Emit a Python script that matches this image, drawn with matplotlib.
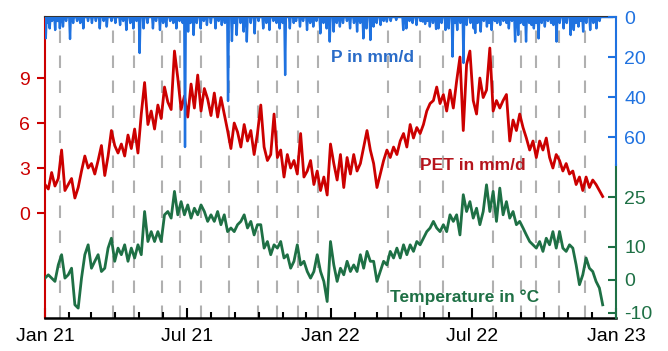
import numpy as np
import pandas as pd
import matplotlib
matplotlib.use('Agg')
import matplotlib.pyplot as plt
import matplotlib.dates as mdates

plt.rcParams.update({
    'font.family': ['Liberation Sans', 'DejaVu Sans'],
    'axes.unicode_minus': False,
})

# PET in mm/d, read every ~4.3 days from 2021-01-01 to 2022-12-15
pet = [
    1.9, 1.6, 2.7, 1.8, 2.3, 4.2, 1.5, 1.9, 2.3, 1.0, 1.7, 2.8, 3.8, 3.0, 3.3,
    2.6, 3.5, 4.5, 2.5, 3.8, 5.5, 4.5, 4.0, 4.6, 3.8, 5.2, 4.3, 5.6, 4.0, 6.6,
    8.7, 5.9, 6.8, 5.6, 7.2, 6.3, 8.4, 7.4, 6.9, 10.8, 9.0, 6.9, 7.8, 6.4, 8.6,
    7.0, 9.2, 6.8, 8.3, 7.6, 6.5, 8.0, 6.4, 7.7, 6.6, 5.5, 4.3, 6.0, 5.4,
    4.4, 5.9, 4.8, 5.5, 3.9, 5.3, 7.2, 4.4, 3.5, 3.9, 6.6, 3.7, 4.2, 2.4, 3.9,
    3.0, 3.5, 2.6, 5.3, 2.4, 2.8, 3.5, 1.9, 2.8, 1.5, 2.4, 1.2, 4.6, 3.3, 2.2,
    3.9, 1.7, 3.7, 2.6, 3.9, 2.8, 3.3, 4.4, 5.5, 4.2, 3.3, 1.7, 2.6, 3.5, 4.2,
    3.7, 4.4, 3.9, 4.8, 5.3, 4.4, 5.9, 5.0, 5.7, 5.3, 5.9, 6.8, 7.3,
    7.5, 8.4, 7.3, 7.9, 6.8, 8.2, 7.0, 8.8, 10.4, 5.5, 9.9, 10.8, 7.5, 6.6, 9.0,
    7.7, 8.2, 11.0, 6.8, 7.5, 7.0, 7.5, 7.9, 4.8, 6.2, 5.5, 6.6, 5.7, 5.0, 4.2,
    4.8, 3.7, 4.8, 4.2, 5.0, 3.7, 3.0, 3.9, 3.5, 2.8, 3.3, 2.6, 2.8, 1.9, 2.4,
    1.5, 2.4, 1.7, 2.2, 1.9, 1.5, 1.1,
]

# Temperature in deg C, same dates as PET
temp = [
    0.5, 1.5, 0.5, -0.5, 4.5, 7.6, 0.5, 1.5, 3.5, -7.6, -8.6, 0.5, 7.6, 10.6, 3.5,
    5.6, 7.6, 2.5, 3.5, 9.6, 12.6, 5.6, 9.6, 7.6, 10.6, 5.6, 9.6, 6.6, 10.6, 7.6,
    20.7, 11.6, 14.6, 11.6, 14.6, 11.6, 19.7, 20.7, 18.7, 26.8, 19.7, 23.7, 19.7, 22.7, 18.7,
    21.7, 19.7, 22.7, 20.7, 17.7, 19.7, 17.7, 20.7, 16.7, 19.7, 14.6, 15.7, 14.6, 16.7,
    17.7, 19.7, 15.7, 17.7, 13.6, 16.7, 16.7, 9.6, 11.6, 7.6, 10.6, 9.6, 11.6, 6.6, 7.6,
    3.5, 5.6, 10.6, 4.5, 5.6, 2.5, 0.5, 2.5, 7.6, 2.5, -0.5, -6.6, 11.6, 4.5, -0.5,
    3.5, 1.5, 5.6, 2.5, 4.5, 2.5, 7.6, 3.5, 8.6, 5.6, 5.6, -0.5, 2.5, 5.6, 4.5,
    8.6, 6.6, 9.6, 6.6, 10.6, 7.6, 10.6, 8.6, 11.6, 10.6, 12.6, 14.6, 15.7,
    17.7, 15.7, 14.6, 16.7, 14.6, 19.7, 17.7, 19.7, 13.6, 25.8, 20.7, 23.7, 18.7, 21.7, 16.7,
    20.7, 28.8, 20.7, 26.8, 17.7, 27.8, 19.7, 23.7, 18.7, 20.7, 16.7, 17.7, 15.7, 13.6, 11.6,
    10.6, 9.6, 11.6, 8.6, 12.6, 10.6, 14.6, 9.6, 14.6, 9.6, 8.6, 10.6, 9.6, 4.5, -1.5,
    1.5, 6.6, 3.5, 2.5, -0.5, -2.5, -7.6,
]

# Precipitation events: day offset from 2021-01-01 and amount in mm/d
p_day = [
    1, 4, 6, 9, 13, 16, 19, 23, 27, 32, 36, 41, 45, 49, 55, 60, 65, 70, 75, 79,
    85, 90, 96, 100, 104, 109, 113, 117, 121, 126, 131, 138, 142, 147, 151, 155,
    160, 164, 168, 172, 176, 179, 183, 186, 190, 194, 199, 203, 207, 212, 218,
    222, 226, 230, 234, 239, 242, 245, 250, 254, 258, 263, 268, 273, 279, 283,
    287, 292, 296, 300, 304, 307, 313, 318, 321, 326, 330, 335, 339, 343, 347,
    352, 356, 360, 364, 369, 373, 377, 381, 386, 390, 395, 399, 403, 407, 411,
    416, 420, 424, 429, 433, 437, 442, 449, 458, 462, 466, 470, 475, 480, 483,
    486, 489, 492, 496, 500, 503, 507, 512, 516, 521, 524, 527, 531, 535, 539,
    544, 548, 550, 553, 557, 561, 565, 568, 571, 575, 578, 582, 586, 590, 593,
    597, 601, 605, 608, 612, 615, 619, 622, 625, 628, 631, 635, 639, 643, 647,
    650, 654, 658, 663, 667, 672, 676, 679, 682, 685, 688, 692, 697, 701, 705, 709,
]
p_mm = [
    10.6, 3, 5.7, 2, 6.5, 2, 5.7, 4.8, 2, 11, 3, 2, 3, 5.7, 2, 3, 2, 5.7, 2, 4.8,
    2, 3, 4, 2, 6.5, 3, 5.7, 2, 18, 5.7, 3, 5.7, 2, 6.5, 3, 4.8,
    2, 3, 5.7, 2, 3, 65, 7.3, 3, 9, 3, 5.7, 2, 4, 3, 5.7,
    2, 4, 3, 42, 12, 3, 9, 3, 7.3, 12.3, 3, 8.2, 2, 5.7, 3,
    6.5, 2, 3, 5.7, 3, 29, 5.7, 3, 2, 4.8, 2, 6.5, 3, 4.8, 2,
    8.2, 3, 5.7, 12.3, 7.3, 3, 4.8, 3, 2, 5.7, 3, 7.3, 3, 10.7, 5.7,
    11.5, 4.8, 3, 4, 2, 2.3, 2, 1.5, 6.5, 5.7, 2, 3, 4, 2, 2.3,
    3.5, 2, 4.8, 3, 6, 5.7, 3, 6.5, 5.7, 19.8, 3, 6.5, 3, 23, 4,
    3, 5.7, 8, 3, 7.3, 2, 4.8, 3, 6.5, 2, 3, 4, 2, 3, 5.7,
    2, 12.3, 9, 3, 4, 12.3, 3, 4, 5.7, 3, 10.7, 3, 4.8, 2, 3,
    4, 12.3, 3, 5.7, 3, 9, 6.5, 3, 4.8, 2, 7.3, 3, 6.5, 3, 5.7, 2,
]

# marked dates (dashed lines)
events = [
    '2021-01-20', '2021-03-29', '2021-04-25', '2021-05-31', '2021-06-22',
    '2021-07-20', '2021-08-24', '2021-09-30', '2021-10-24', '2021-11-21',
    '2021-12-16', '2022-03-15', '2022-04-26', '2022-05-25', '2022-07-28',
    '2022-09-01', '2022-09-21', '2022-10-20', '2022-11-23',
]

red = '#cc0000'
blue = '#1f72e0'
green = '#1e7045'

t_dates = pd.date_range('2021-01-01', '2022-12-15', periods=len(pet))
p_series = pd.Series(0.0, index=pd.date_range('2021-01-01', '2022-12-27', freq='D'))
p_series.iloc[p_day] = p_mm

fig = plt.figure(figsize=(6.68, 3.51), dpi=100)
ax = fig.add_axes([45 / 668, 33 / 351, 571 / 668, 301 / 351])
ax_t = ax.twinx()
ax_p = ax.twinx()

for d in events:
    ax.axvline(pd.Timestamp(d), color='#b0b0b0', lw=1.5, linestyle=(0, (6, 6)), zorder=0)

ax.plot(t_dates, pet, color=red, lw=2.0)
ax_t.plot(t_dates, temp, color=green, lw=2.0)
ax_p.plot(p_series.index, p_series.values, color=blue, lw=1.7)

ax.set_xlim(pd.Timestamp('2021-01-01'), pd.Timestamp('2023-01-01'))
ax.set_ylim(-7.0, 13.07)
ax_p.set_ylim(150.5, 0)
ax_t.set_ylim(-11.6, 79.7)

ax.xaxis.set_major_locator(mdates.MonthLocator(bymonth=[1, 7]))
ax.xaxis.set_minor_locator(mdates.MonthLocator())
ax.xaxis.set_major_formatter(mdates.DateFormatter('%b %y'))
ax.tick_params(axis='x', which='major', direction='in', length=7, width=1.5, labelsize=14, pad=7)
ax.tick_params(axis='x', which='minor', direction='in', length=4, width=1.5)

ax.set_yticks([0, 3, 6, 9])
ax.tick_params(axis='y', direction='out', length=6, width=1.5, colors=red, labelsize=14, pad=5)
ax_p.set_yticks([0, 20, 40, 60])
ax_p.tick_params(axis='y', direction='in', length=6, width=1.5, colors=blue, labelsize=14, pad=6)
ax_t.set_yticks([-10, 0, 10, 25])
ax_t.tick_params(axis='y', direction='in', length=6, width=1.5, colors=green, labelsize=14, pad=6)

ax.spines['right'].set_visible(False)
ax.spines['left'].set_color(red)
ax.spines['left'].set_linewidth(1.5)
ax.spines['top'].set_linewidth(1.5)
ax.spines['top'].set_color('#333333')
ax.spines['bottom'].set_linewidth(1.8)
for a in (ax_t, ax_p):
    for s in ('left', 'top', 'bottom'):
        a.spines[s].set_visible(False)
ax_p.spines['right'].set_color(blue)
ax_p.spines['right'].set_linewidth(1.5)
ax_p.spines['right'].set_bounds(0, 74)
ax_t.spines['right'].set_color(green)
ax_t.spines['right'].set_linewidth(1.5)
ax_t.spines['right'].set_bounds(-11.6, 34.8)

ax_p.text(0.573, 0.867, 'P in mm/d', transform=ax.transAxes, color='#2a6cc8',
          fontsize=12.5, fontweight='bold', ha='center', va='center')
ax_p.text(0.750, 0.505, 'PET in mm/d', transform=ax.transAxes, color='#b5141c',
          fontsize=12.5, fontweight='bold', ha='center', va='center')
ax_p.text(0.734, 0.070, 'Temperature in °C', transform=ax.transAxes, color=green,
          fontsize=12.5, fontweight='bold', ha='center', va='center')

fig.savefig('out.png', dpi=100)
